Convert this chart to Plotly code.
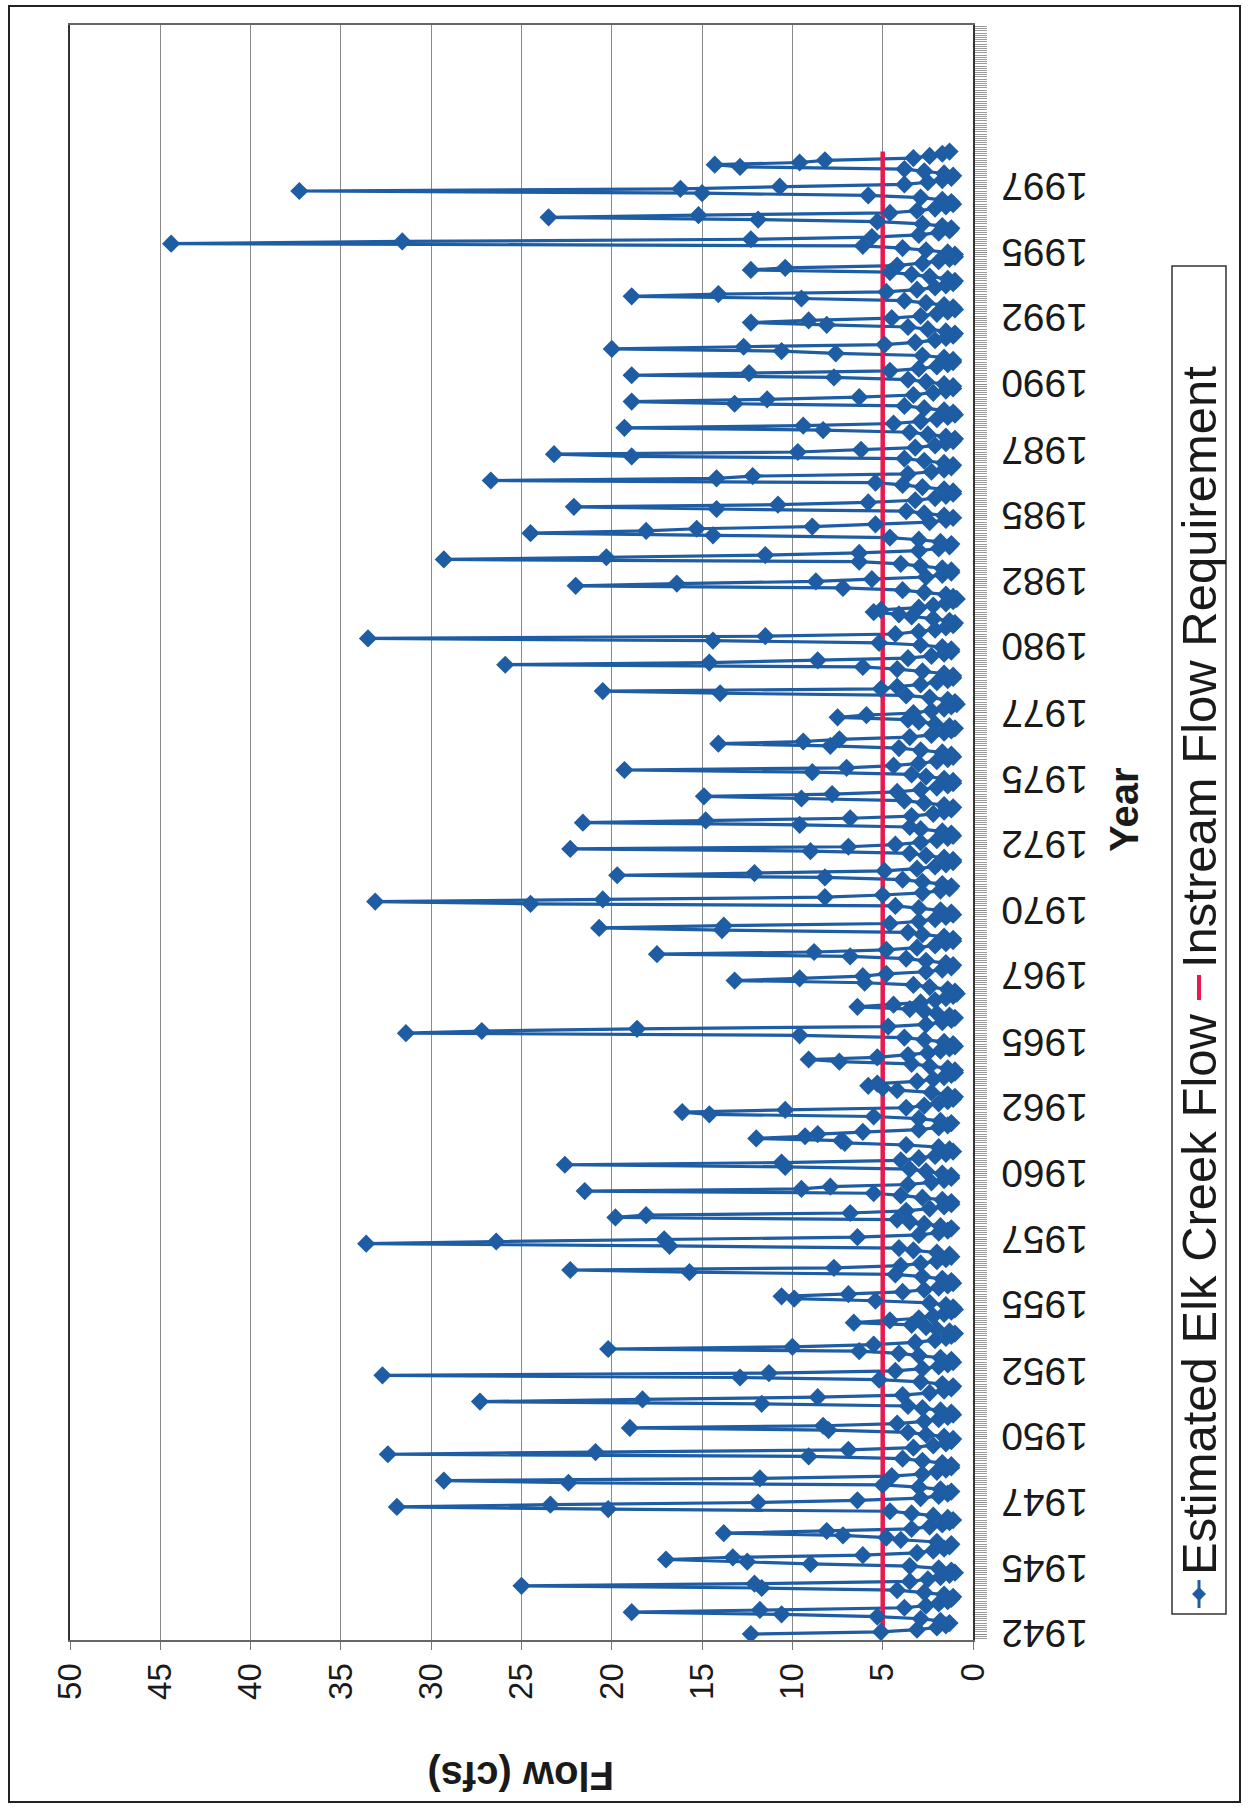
import plotly.graph_objects as go

# ---------------- data ----------------
# Estimated Elk Creek monthly flow (cfs), in time order, one row per year block
flow_cfs = [
    12.3, 5.1, 3.1, 2.0, 1.5,
    1.3, 1.8, 2.9, 5.3, 10.6, 18.9, 11.8, 3.8, 2.6, 1.9, 1.4, 1.2,
    1.1, 1.6, 2.7, 4.2, 11.7, 25.0, 12.1, 3.5, 2.5, 1.8, 1.3, 1.0,
    1.2, 1.9, 3.5, 9.0, 12.5, 17.0, 13.3, 6.1, 3.1, 2.2, 1.6, 1.3,
    1.2, 2.0, 4.0, 4.8, 7.2, 13.8, 8.1, 3.4, 2.4, 1.7, 1.3, 1.1,
    1.4, 2.2, 3.4, 4.6, 20.2, 31.9, 23.4, 11.9, 6.4, 2.9, 1.9, 1.4,
    1.2, 1.8, 3.0, 5.0, 22.4, 29.3, 11.8, 4.5, 2.8, 2.0, 1.5, 1.2,
    1.2, 1.7, 2.8, 3.9, 9.1, 32.4, 20.9, 6.9, 3.3, 2.2, 1.5, 1.2,
    1.1, 1.6, 2.6, 3.6, 8.0, 19.0, 8.3, 4.2, 2.7, 1.9, 1.4, 1.1,
    1.2, 1.8, 2.8, 3.6, 11.7, 27.3, 18.3, 8.6, 3.9, 2.4, 1.6, 1.2,
    1.1, 1.7, 2.9, 5.2, 12.9, 32.7, 11.3, 4.3, 2.8, 1.9, 1.4, 1.1,
    1.2, 1.8, 3.0, 4.1, 6.3, 20.2, 10.0, 5.5, 3.2, 2.1, 1.5, 1.2,
    1.0, 1.3, 2.0, 2.6, 3.4, 6.6, 4.6, 3.0, 2.2, 1.6, 1.2, 1.0,
    1.1, 1.5, 2.4, 5.4, 9.9, 10.6, 6.9, 3.9, 2.7, 1.9, 1.4, 1.1,
    1.2, 1.7, 2.8, 4.3, 15.7, 22.3, 7.7, 4.0, 2.9, 2.0, 1.5, 1.2,
    1.3, 2.0, 3.3, 4.1, 16.8, 33.6, 26.4, 17.1, 6.4, 3.0, 1.9, 1.4,
    1.2, 1.8, 2.7, 3.5, 4.2, 19.8, 18.1, 6.8, 3.7, 2.4, 1.6, 1.2,
    1.2, 1.7, 2.8, 4.0, 5.5, 21.5, 9.5, 7.9, 3.6, 2.3, 1.6, 1.2,
    1.2, 1.7, 2.6, 3.5, 10.4, 22.6, 10.6, 4.0, 3.0, 2.1, 1.5, 1.1,
    1.3, 1.9, 3.7, 7.1, 7.3, 12.0, 9.3, 8.6, 6.1, 3.0, 1.9, 1.4,
    1.2, 1.8, 3.0, 5.5, 14.6, 16.1, 10.4, 3.7, 2.7, 1.9, 1.4, 1.1,
    1.0, 1.4, 2.3, 4.2, 5.0, 5.8, 5.3, 3.1, 2.2, 1.6, 1.2, 1.0,
    1.0, 1.4, 2.4, 3.4, 7.4, 9.1, 5.3, 3.6, 2.5, 1.8, 1.3, 1.0,
    1.1, 1.6, 2.7, 3.8, 9.6, 31.4, 27.2, 18.6, 4.7, 2.6, 1.7, 1.2,
    1.0, 1.3, 2.0, 2.7, 3.5, 6.4, 4.4, 2.9, 2.1, 1.5, 1.1, 0.9,
    1.0, 1.4, 2.4, 3.3, 6.0, 13.2, 9.6, 6.1, 4.8, 2.6, 1.7, 1.2,
    1.1, 1.5, 2.6, 3.7, 6.8, 17.5, 8.8, 4.8, 3.1, 2.1, 1.5, 1.1,
    1.1, 1.6, 2.8, 3.6, 13.9, 20.7, 13.8, 4.6, 3.0, 2.1, 1.5, 1.1,
    1.2, 1.8, 3.0, 4.3, 24.5, 33.1, 20.5, 8.2, 5.0, 2.8, 1.8, 1.3,
    1.2, 1.7, 2.8, 3.9, 8.2, 19.7, 12.1, 4.9, 3.1, 2.1, 1.5, 1.1,
    1.1, 1.6, 2.6, 3.5, 9.0, 22.3, 6.9, 4.3, 2.9, 2.0, 1.4, 1.1,
    1.2, 1.7, 2.9, 3.5, 9.6, 21.6, 14.8, 6.8, 3.4, 2.2, 1.6, 1.2,
    1.1, 1.6, 2.7, 3.8, 9.5, 14.9, 7.8, 4.2, 2.9, 2.0, 1.4, 1.1,
    1.1, 1.6, 2.6, 3.4, 8.9, 19.3, 7.0, 4.4, 3.0, 2.0, 1.4, 1.1,
    1.2, 1.7, 2.9, 4.1, 7.9, 14.1, 9.4, 7.4, 3.5, 2.3, 1.6, 1.2,
    1.0, 1.3, 2.1, 3.0, 3.6, 7.5, 5.9, 3.3, 2.3, 1.6, 1.2, 0.9,
    1.0, 1.4, 2.4, 3.7, 14.0, 20.5, 5.1, 4.2, 2.9, 2.0, 1.4, 1.1,
    1.1, 1.6, 2.8, 4.2, 6.1, 25.9, 14.6, 8.6, 3.6, 2.3, 1.6, 1.2,
    1.2, 1.7, 2.9, 5.2, 14.4, 33.5, 11.5, 4.3, 3.0, 2.1, 1.5, 1.1,
    1.0, 1.3, 2.2, 3.4, 4.1, 5.5, 5.1, 3.0, 2.2, 1.5, 1.1, 0.9,
    1.1, 1.5, 2.7, 3.9, 7.2, 22.0, 16.4, 8.7, 5.6, 2.6, 1.7, 1.2,
    1.2, 1.7, 2.9, 4.0, 6.3, 29.3, 20.3, 11.5, 6.3, 3.0, 1.9, 1.3,
    1.2, 1.8, 3.0, 4.6, 14.4, 24.5, 18.1, 15.3, 8.9, 5.4, 2.4, 1.5,
    1.1, 1.6, 2.7, 3.7, 14.2, 22.1, 10.8, 5.8, 3.2, 2.1, 1.5, 1.1,
    1.1, 1.6, 2.8, 3.9, 5.4, 26.7, 14.2, 12.2, 3.6, 2.3, 1.6, 1.2,
    1.1, 1.6, 2.7, 3.8, 18.9, 23.2, 9.7, 6.2, 3.2, 2.1, 1.5, 1.1,
    1.0, 1.5, 2.5, 3.5, 8.3, 19.3, 9.4, 4.4, 2.9, 2.0, 1.4, 1.0,
    1.1, 1.6, 2.7, 3.8, 13.2, 18.9, 11.4, 6.3, 3.3, 2.2, 1.5, 1.1,
    1.1, 1.6, 2.6, 3.6, 7.7, 18.9, 12.4, 4.6, 3.0, 2.0, 1.4, 1.1,
    1.1, 1.6, 2.8, 7.6, 10.6, 20.0, 12.7, 4.9, 3.2, 2.1, 1.5, 1.1,
    1.0, 1.5, 2.5, 3.6, 8.1, 12.3, 9.1, 4.5, 2.9, 2.0, 1.4, 1.0,
    1.1, 1.6, 2.6, 3.8, 9.5, 18.9, 14.1, 4.8, 3.1, 2.1, 1.5, 1.1,
    1.0, 1.4, 2.4, 3.4, 4.6, 12.3, 10.4, 4.2, 2.8, 1.9, 1.3, 1.0,
    1.0, 1.4, 2.6, 3.9, 6.1, 44.4, 31.6, 12.3, 5.6, 3.0, 1.9, 1.3,
    1.2, 1.7, 2.8, 5.3, 11.9, 23.5, 15.2, 4.6, 3.1, 2.1, 1.5, 1.1,
    1.2, 1.7, 2.9, 5.8, 15.0, 37.3, 16.2, 10.7, 3.8, 2.5, 1.7, 1.2,
    1.1, 1.6, 2.7, 3.8, 12.9, 14.3, 9.6, 8.2, 3.3, 2.4, 1.7, 1.3,
]

instream_req_cfs = [5.0, 5.0]          # constant requirement, first to last month

year_labels = ["1942", "1945", "1947", "1950", "1952", "1955", "1957", "1960",
               "1962", "1965", "1967", "1970", "1972", "1975", "1977", "1980",
               "1982", "1985", "1987", "1990", "1992", "1995", "1997"]
months_per_label = 30
flow_ticks = [0, 5, 10, 15, 20, 25, 30, 35, 40, 45, 50]

# ---------------- layout helpers (page pixels -> paper) ----------------
W, H = 1249, 1807
PL, PR, PT, PB = 70, 973, 25, 1640


def px(X):
    return (X - PL) / (PR - PL)


def py(Y):
    return (PB - Y) / (PB - PT)


month_index = list(range(len(flow_cfs)))
req_months = [month_index[0], month_index[-1]]
tick_months = [i * months_per_label for i in range(len(year_labels))]

BLUE = "#1E5CA3"
RED = "#E8194F"
FONT = "Liberation Sans, Arial, sans-serif"
TXT = "#1a1a1a"

fig = go.Figure()
fig.add_trace(go.Scatter(x=flow_cfs, y=month_index, mode="lines",
                         line=dict(color=BLUE, width=3.2), showlegend=False,
                         hoverinfo="skip"))
fig.add_trace(go.Scatter(x=instream_req_cfs, y=req_months, mode="lines",
                         line=dict(color=RED, width=4.5), showlegend=False))
fig.add_trace(go.Scatter(x=flow_cfs, y=month_index, mode="markers",
                         marker=dict(symbol="diamond", size=14, color=BLUE),
                         showlegend=False))

fig.update_layout(
    width=W, height=H,
    margin=dict(l=PL, r=W - PR, t=PT, b=H - PB, pad=0),
    paper_bgcolor="white", plot_bgcolor="white",
    font=dict(family=FONT, color=TXT),
    showlegend=False,
)

fig.update_xaxes(
    range=[50, 0], tickvals=flow_ticks, ticktext=[str(v) for v in flow_ticks],
    tickangle=-90, tickfont=dict(size=33, family=FONT, color=TXT),
    ticks="outside", ticklen=8, tickcolor="#777", tickwidth=1,
    ticklabelstandoff=0,
    showgrid=True, gridcolor="#8a8a8a", gridwidth=1, zeroline=False,
    showline=True, linecolor="#666", linewidth=2, mirror=True,
)

fig.update_yaxes(
    side="right", range=[-2.7, 733.7],
    tickmode="array", tickvals=tick_months, showticklabels=False,
    ticks="outside", ticklen=12, tickcolor="#8a8a8a", tickwidth=1,
    minor=dict(tickmode="linear", tick0=0, dtick=1, ticks="outside",
               ticklen=12, tickcolor="#9a9a9a", tickwidth=1),
    showgrid=False, zeroline=False,
    showline=True, linecolor="#333", linewidth=2, mirror=True,
)

# year labels, upside down as on the scanned page, placed at their months
for m, lab in zip(tick_months, year_labels):
    fig.add_annotation(x=px(1045), y=m, xref="paper", yref="y",
                       text=lab, textangle=180, showarrow=False,
                       xanchor="center", yanchor="middle",
                       font=dict(size=39, family=FONT, color=TXT))

# axis titles (rotated like the scanned page)
fig.add_annotation(x=px(521), y=py(1800), xref="paper", yref="paper",
                   text="<b>Flow (cfs)</b>", textangle=180, showarrow=False,
                   font=dict(size=40, family=FONT, color=TXT))
fig.add_annotation(x=px(1148), y=py(810), xref="paper", yref="paper",
                   text="<b>Year</b>", textangle=-90, showarrow=False,
                   font=dict(size=40, family=FONT, color=TXT))

# legend drawn rotated
LX = 1199
fig.add_shape(type="rect", xref="paper", yref="paper",
              x0=px(1172), x1=px(1226), y0=py(1614), y1=py(266),
              line=dict(color="#333", width=1.5), fillcolor="white", layer="below")
fig.add_shape(type="line", xref="paper", yref="paper",
              x0=px(LX), x1=px(LX), y0=py(1608), y1=py(1580),
              line=dict(color=BLUE, width=3))
d = 7
fig.add_shape(type="path", xref="paper", yref="paper",
              path=(f"M {px(LX)},{py(1594 - d)} L {px(LX + d)},{py(1594)} "
                    f"L {px(LX)},{py(1594 + d)} L {px(LX - d)},{py(1594)} Z"),
              fillcolor=BLUE, line=dict(color=BLUE, width=0))
fig.add_annotation(x=px(LX), y=py(1577), xref="paper", yref="paper",
                   text="Estimated Elk Creek Flow", textangle=-90,
                   showarrow=False, xanchor="center", yanchor="bottom",
                   font=dict(size=49, family=FONT, color=TXT))
fig.add_shape(type="line", xref="paper", yref="paper",
              x0=px(LX), x1=px(LX), y0=py(1000), y1=py(975),
              line=dict(color=RED, width=4))
fig.add_annotation(x=px(LX), y=py(970), xref="paper", yref="paper",
                   text="Instream Flow Requirement", textangle=-90,
                   showarrow=False, xanchor="center", yanchor="bottom",
                   font=dict(size=49, family=FONT, color=TXT))

# outer chart border
fig.add_shape(type="rect", xref="paper", yref="paper",
              x0=px(9), x1=px(1240), y0=py(1802), y1=py(6),
              line=dict(color="#222", width=2), layer="below")

fig.write_html("out.html", config={"displayModeBar": False},
               post_script="document.body.style.margin='0px';")
